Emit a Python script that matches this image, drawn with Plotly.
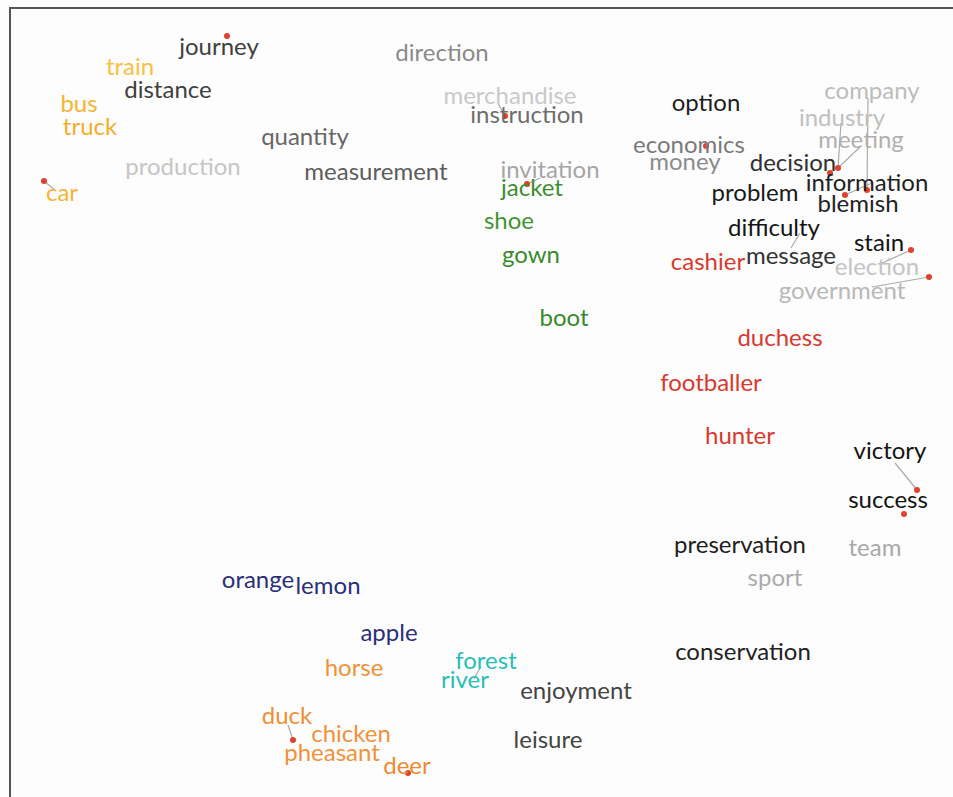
import plotly.graph_objects as go

# word labels, centre positions (in chart units, y downwards) and colours
words = [
    "journey", "train", "distance", "bus", "truck", "car",
    "quantity", "production", "measurement", "direction",
    "merchandise", "instruction", "invitation",
    "jacket", "shoe", "gown", "boot",
    "option", "economics", "money", "decision", "problem",
    "company", "industry", "meeting", "information", "blemish",
    "difficulty", "message", "stain", "election", "government", "cashier",
    "duchess", "footballer", "hunter", "victory", "success",
    "preservation", "team", "sport", "conservation",
    "orange", "lemon", "apple", "horse", "forest", "river", "enjoyment",
    "duck", "chicken", "pheasant", "deer", "leisure",
]
word_x = [
    219, 130, 168, 79, 90, 62,
    305, 183, 376, 442,
    510, 527, 550,
    532, 509, 531, 564,
    706, 689, 685, 793, 755,
    872, 842, 861, 867, 858,
    774, 791, 879, 877, 842, 708,
    780, 711, 740, 890, 888,
    740, 875, 775, 743,
    258, 328, 389, 354, 486, 465, 576,
    287, 351, 332, 407, 548,
]
word_y = [
    49, 69, 92, 106, 129, 195,
    139, 169, 174, 55,
    98, 117, 172,
    190, 223, 257, 320,
    105, 147, 164, 165, 195,
    93, 120, 142, 185, 206,
    230, 258, 245, 269, 293, 264,
    340, 385, 438, 453, 502,
    547, 550, 580, 654,
    582, 588, 635, 670, 663, 682, 693,
    718, 736, 755, 768, 742,
]
word_color = [
    "#404040", "#f9bf45", "#404040", "#f6b530", "#f3ad2c", "#f5b43a",
    "#686868", "#c6c6c6", "#5c5c5c", "#8a8a8a",
    "#c9c9c9", "#6e6e6e", "#a6a6a6",
    "#3d8e31", "#3f9434", "#3a8a2f", "#378a2c",
    "#1e1e1e", "#7a7a7a", "#8c8c8c", "#303030", "#1a1a1a",
    "#bcbcbc", "#c0c0c0", "#b0b0b0", "#222222", "#222222",
    "#141414", "#333333", "#141414", "#c4c4c4", "#b8b8b8", "#d8392f",
    "#d8392f", "#d8392f", "#d8392f", "#141414", "#141414",
    "#202020", "#a8a8a8", "#ababab", "#222222",
    "#2b2f78", "#2b2f78", "#2b2f78", "#f0923a", "#2bbdb8", "#2bbdb8", "#444444",
    "#ef8f35", "#f0923a", "#f0923a", "#ee8a33", "#444444",
]

# red point markers
dot_x = [227, 44, 505, 527, 706, 838, 830, 867, 845, 911, 929, 917, 904, 293, 408]
dot_y = [36, 181, 116, 184, 146, 168, 173, 190, 195, 250, 277, 490, 514, 740, 773]

# grey leader lines: start point -> end point
lead_x0 = [44, 505, 527, 868, 841, 860, 845, 911, 929, 917, 800, 293, 474]
lead_y0 = [181, 116, 184, 98, 123, 147, 195, 250, 277, 490, 233, 740, 679]
lead_x1 = [55, 498, 540, 867, 838, 838, 872, 880, 872, 895, 791, 288, 480]
lead_y1 = [190, 103, 178, 190, 168, 168, 183, 264, 287, 463, 248, 725, 668]

fig = go.Figure()

for x0, y0, x1, y1 in zip(lead_x0, lead_y0, lead_x1, lead_y1):
    fig.add_trace(go.Scatter(
        x=[x0, x1], y=[y0, y1], mode="lines",
        line=dict(color="rgba(150,150,150,0.8)", width=1.2),
        hoverinfo="skip", showlegend=False,
    ))

fig.add_trace(go.Scatter(
    x=dot_x, y=dot_y, mode="markers",
    marker=dict(color="#e0412f", size=6),
    hoverinfo="skip", showlegend=False,
))

fig.add_trace(go.Scatter(
    x=word_x, y=word_y, mode="text", text=words,
    textposition="middle center",
    textfont=dict(family="Lato", size=24, color=word_color),
    hoverinfo="text", showlegend=False,
))

fig.add_shape(type="rect", x0=10, y0=8, x1=970, y1=815,
              line=dict(color="#555555", width=2), layer="above")

fig.update_layout(
    width=953, height=797,
    margin=dict(l=0, r=0, t=0, b=0),
    paper_bgcolor="#fdfdfd", plot_bgcolor="#fdfdfd",
    xaxis=dict(range=[0, 953], visible=False, fixedrange=True),
    yaxis=dict(range=[797, 0], visible=False, fixedrange=True),
)

fig.write_html(
    "out.html",
    config={"displayModeBar": False},
    post_script="document.body.style.margin='0';document.body.style.overflow='hidden';",
)
